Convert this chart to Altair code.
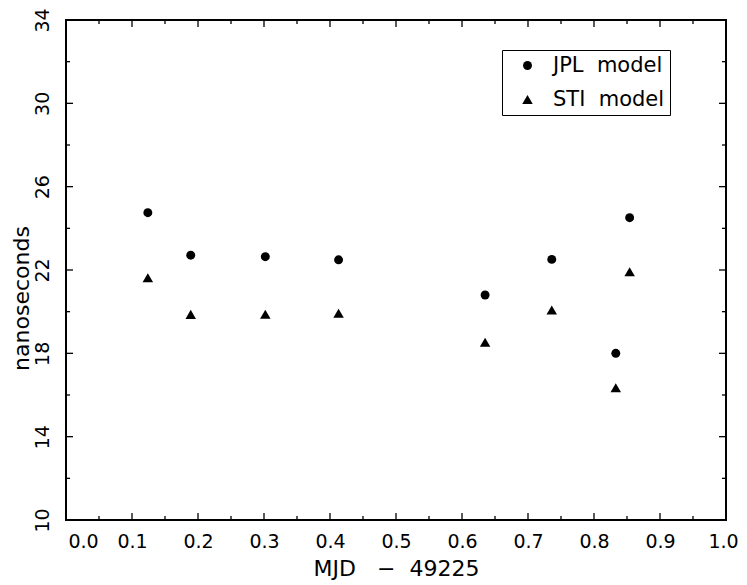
import altair as alt
import pandas as pd

# Data
mjd = [0.124, 0.189, 0.302, 0.413, 0.635, 0.736, 0.833, 0.854]
jpl = [24.75, 22.71, 22.64, 22.49, 20.80, 22.51, 18.00, 24.51]
sti = [21.63, 19.87, 19.88, 19.92, 18.53, 20.08, 16.35, 21.92]
models = ["JPL\u00a0\u00a0model", "STI\u00a0\u00a0model"]

x_ticks = [0.0, 0.1, 0.2, 0.3, 0.4, 0.5, 0.6, 0.7, 0.8, 0.9, 1.0]
x_minor = [0.05, 0.15, 0.25, 0.35, 0.45, 0.55, 0.65, 0.75, 0.85, 0.95]
y_ticks = [10, 14, 18, 22, 26, 30, 34]
y_minor = [12, 16, 20, 24, 28, 32]

FONT = "DejaVu Sans"
W, H = 660, 500

rows = []
for xv, a, b in zip(mjd, jpl, sti):
    rows.append({"mjd": xv, "ns": a, "model": models[0]})
    rows.append({"mjd": xv, "ns": b, "model": models[1]})
df = pd.DataFrame(rows)

xscale = alt.Scale(domain=[0, 1], nice=False, zero=False)
yscale = alt.Scale(domain=[10, 34], nice=False, zero=False)

xaxis = alt.Axis(values=x_ticks, format=".1f", ticks=False, domain=False, grid=False,
                 labelFlush=False,
                 labelFont=FONT, labelFontSize=19, labelColor="black", labelPadding=12,
                 labelOffset=alt.ExprRef(expr="datum.value == 0 ? 17 : (datum.value == 1 ? -3 : 0)"),
                 title="MJD\u00a0\u00a0\u00a0\u2212\u00a0\u00a049225",
                 titleFont=FONT, titleFontSize=22,
                 titleFontWeight="normal", titleColor="black",
                 titleX=330, titleY=48, titleBaseline="middle", titleAlign="center")
yaxis = alt.Axis(values=y_ticks, ticks=False, domain=False, grid=False,
                 labelFlush=False,
                 labelFont=FONT, labelFontSize=19, labelColor="black", labelPadding=14,
                 labelAngle=270, labelAlign="center", labelBaseline="bottom",
                 title="nanoseconds", titleFont=FONT, titleFontSize=22,
                 titleFontWeight="normal", titleColor="black",
                 titleX=-45, titleY=278, titleBaseline="middle", titleAlign="center",
                 titleAngle=270)

legend = alt.Legend(title=None, orient="none", legendX=436, legendY=30,
                    strokeColor="black", fillColor="white", padding=5,
                    symbolOffset=10, labelOffset=15,
                    rowPadding=12, labelFont=FONT, labelFontSize=21,
                    labelColor="black", symbolFillColor="black",
                    symbolStrokeColor="black")

points = alt.Chart(df).mark_point(filled=True, opacity=1, color="black").encode(
    x=alt.X("mjd:Q", scale=xscale, axis=xaxis),
    y=alt.Y("ns:Q", scale=yscale, axis=yaxis),
    shape=alt.Shape("model:N", scale=alt.Scale(domain=models, range=["circle", "triangle-up"]),
                    legend=legend),
    size=alt.Size("model:N", scale=alt.Scale(domain=models, range=[80, 110]), legend=legend),
)

def xt(vals, y0, y1):
    return alt.Chart(pd.DataFrame({"mjd": vals})).mark_rule(color="black", strokeWidth=1.3).encode(
        x=alt.X("mjd:Q", scale=xscale, axis=xaxis), y=alt.value(y0), y2=alt.value(y1))

def yt(vals, x0, x1):
    return alt.Chart(pd.DataFrame({"ns": vals})).mark_rule(color="black", strokeWidth=1.3).encode(
        y=alt.Y("ns:Q", scale=yscale, axis=yaxis), x=alt.value(x0), x2=alt.value(x1))

ticks = [
    xt(x_ticks, H, H - 7), xt(x_minor, H, H - 4),
    xt(x_ticks, 0, 7), xt(x_minor, 0, 4),
    yt(y_ticks, 0, 7), yt(y_minor, 0, 4),
    yt(y_ticks, W, W - 7), yt(y_minor, W, W - 4),
]

chart = alt.layer(points, *ticks).properties(
    width=W, height=H,
    background="white",
    autosize=alt.AutoSizeParams(type="none"),
    padding={"left": 58, "top": 12, "right": 13, "bottom": 62},
).configure_view(stroke="black", strokeWidth=2)

chart.save("out.html", embed_options={"renderer": "svg", "actions": False})
